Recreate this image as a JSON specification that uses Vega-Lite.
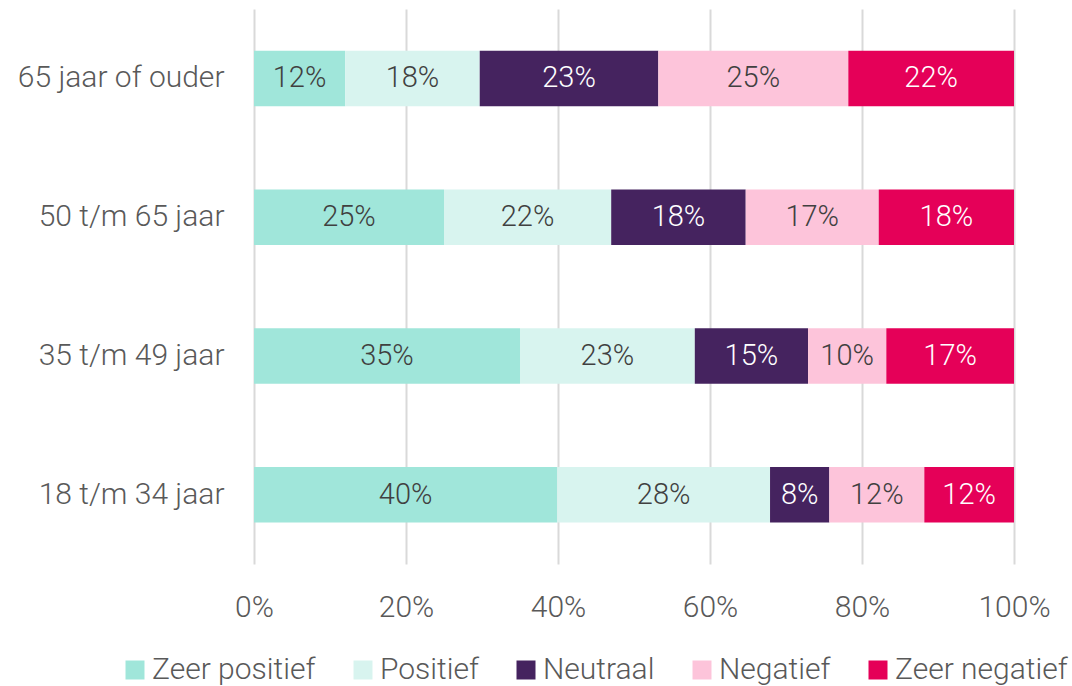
{
  "$schema": "https://vega.github.io/schema/vega-lite/v6.json",
  "width": 760,
  "height": 555,
  "autosize": "none",
  "padding": {"left": 254, "top": 9, "right": 58, "bottom": 122},
  "background": "white",
  "config": {
    "font": "Roboto",
    "view": {"stroke": null}
  },
  "data": {
    "values": [
      {"age": "65 jaar of ouder", "category": "Zeer positief", "order": 1, "value": 12.0, "label": "12%"},
      {"age": "65 jaar of ouder", "category": "Positief", "order": 2, "value": 17.7, "label": "18%"},
      {"age": "65 jaar of ouder", "category": "Neutraal", "order": 3, "value": 23.5, "label": "23%"},
      {"age": "65 jaar of ouder", "category": "Negatief", "order": 4, "value": 25.0, "label": "25%"},
      {"age": "65 jaar of ouder", "category": "Zeer negatief", "order": 5, "value": 21.8, "label": "22%"},
      {"age": "50 t/m 65 jaar", "category": "Zeer positief", "order": 1, "value": 25.0, "label": "25%"},
      {"age": "50 t/m 65 jaar", "category": "Positief", "order": 2, "value": 22.0, "label": "22%"},
      {"age": "50 t/m 65 jaar", "category": "Neutraal", "order": 3, "value": 17.7, "label": "18%"},
      {"age": "50 t/m 65 jaar", "category": "Negatief", "order": 4, "value": 17.5, "label": "17%"},
      {"age": "50 t/m 65 jaar", "category": "Zeer negatief", "order": 5, "value": 17.8, "label": "18%"},
      {"age": "35 t/m 49 jaar", "category": "Zeer positief", "order": 1, "value": 35.0, "label": "35%"},
      {"age": "35 t/m 49 jaar", "category": "Positief", "order": 2, "value": 23.0, "label": "23%"},
      {"age": "35 t/m 49 jaar", "category": "Neutraal", "order": 3, "value": 14.9, "label": "15%"},
      {"age": "35 t/m 49 jaar", "category": "Negatief", "order": 4, "value": 10.3, "label": "10%"},
      {"age": "35 t/m 49 jaar", "category": "Zeer negatief", "order": 5, "value": 16.8, "label": "17%"},
      {"age": "18 t/m 34 jaar", "category": "Zeer positief", "order": 1, "value": 39.9, "label": "40%"},
      {"age": "18 t/m 34 jaar", "category": "Positief", "order": 2, "value": 28.0, "label": "28%"},
      {"age": "18 t/m 34 jaar", "category": "Neutraal", "order": 3, "value": 7.8, "label": "8%"},
      {"age": "18 t/m 34 jaar", "category": "Negatief", "order": 4, "value": 12.5, "label": "12%"},
      {"age": "18 t/m 34 jaar", "category": "Zeer negatief", "order": 5, "value": 11.8, "label": "12%"}
    ]
  },
  "transform": [
    {"stack": "value", "groupby": ["age"], "sort": [{"field": "order"}], "offset": "normalize", "as": ["v0", "v1"]},
    {"calculate": "(datum.v0 + datum.v1) / 2", "as": "mid"}
  ],
  "encoding": {
    "y": {
      "field": "age",
      "type": "nominal",
      "sort": ["65 jaar of ouder", "50 t/m 65 jaar", "35 t/m 49 jaar", "18 t/m 34 jaar"],
      "scale": {"paddingInner": 0.6, "paddingOuter": 0.3},
      "axis": {
        "title": null,
        "domain": false,
        "ticks": false,
        "labelFontSize": 30,
        "labelFontWeight": 300,
        "labelColor": "#595959",
        "labelPadding": 30,
        "labelLimit": 0
      }
    }
  },
  "layer": [
    {
      "mark": {"type": "bar"},
      "encoding": {
        "x": {
          "field": "v0",
          "type": "quantitative",
          "scale": {"domain": [0, 1], "nice": false},
          "axis": {
            "title": null,
            "values": [0, 0.2, 0.4, 0.6, 0.8, 1],
            "format": ".0%",
            "domain": false,
            "ticks": false,
            "grid": true,
            "gridColor": "#d9d9d9",
            "gridWidth": 2,
            "labelFlush": false,
            "labelFontSize": 30,
            "labelFontWeight": 300,
            "labelColor": "#595959",
            "labelPadding": 28
          }
        },
        "x2": {"field": "v1"},
        "color": {
          "field": "category",
          "type": "nominal",
          "sort": ["Zeer positief", "Positief", "Neutraal", "Negatief", "Zeer negatief"],
          "scale": {
            "domain": ["Zeer positief", "Positief", "Neutraal", "Negatief", "Zeer negatief"],
            "range": ["#a0e6da", "#d8f4ef", "#45235f", "#fdc4da", "#e50058"]
          },
          "legend": {
            "title": null,
            "orient": "none",
            "direction": "horizontal",
            "legendX": -134,
            "legendY": 646,
            "padding": 0,
            "symbolType": "square",
            "symbolSize": 361,
            "symbolStrokeWidth": 0,
            "labelFontSize": 30,
            "labelFontWeight": 300,
            "labelColor": "#595959",
            "labelOffset": 2,
            "labelLimit": 0,
            "columnPadding": 32
          }
        }
      }
    },
    {
      "mark": {"type": "text", "fontSize": 29, "fontWeight": 300, "align": "center", "baseline": "middle"},
      "encoding": {
        "x": {"field": "mid", "type": "quantitative"},
        "text": {"field": "label"},
        "color": {
          "condition": {"test": "datum.category === 'Neutraal' || datum.category === 'Zeer negatief'", "value": "#ffffff"},
          "value": "#404040"
        }
      }
    }
  ]
}
